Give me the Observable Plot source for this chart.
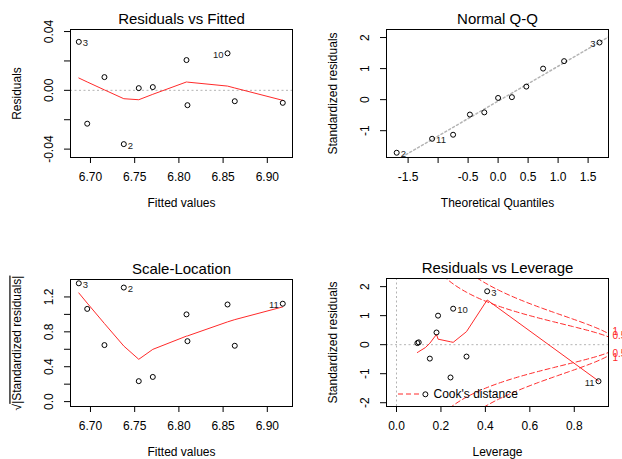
<!DOCTYPE html>
<html>
<head>
<meta charset="utf-8">
<script src="https://cdn.jsdelivr.net/npm/d3@7"></script>
<script src="https://cdn.jsdelivr.net/npm/@observablehq/plot@0.6"></script>
<style>
  html, body { margin: 0; padding: 0; background: #fff; }
  #chart { position: relative; width: 622px; height: 459px; overflow: hidden; }
</style>
</head>
<body>
<div id="chart"></div>
<script>
// ---- data ----
const pointIds = [3, 1, 4, 2, 5, 6, 7, 8, 10, 9, 11];
const fittedValues = [6.6868, 6.6963, 6.7158, 6.7377, 6.7546, 6.7705, 6.8086, 6.8097, 6.8550, 6.8632, 6.9175];
const residuals = [0.0330, -0.0227, 0.0090, -0.0366, 0.0015, 0.0022, 0.0206, -0.0101, 0.0252, -0.0074, -0.0085];
const stdResiduals = [1.84, -1.13, 0.42, -1.71, 0.055, 0.08, 1.00, -0.48, 1.24, -0.41, -1.26];
const leverage = [0.408, 0.243, 0.180, 0.130, 0.094, 0.100, 0.187, 0.150, 0.255, 0.315, 0.909];
const smoothResidFitted = [0.0084, 0.0057, 0.0003, -0.0057, -0.0064, -0.0027, 0.0057, 0.0056, 0.0029, 0.0016, -0.0068];
const smoothScaleLocation = [1.246, 1.129, 0.895, 0.637, 0.485, 0.599, 0.751, 0.753, 0.914, 0.940, 1.086];
const smoothResidLeverage = [1.54, 0.10, 0.355, -0.10, -0.27, -0.24, 0.19, 0.05, 0.08, 0.45, -1.25];
const theoreticalQuantiles = [-1.69, -1.10, -0.75, -0.47, -0.23, 0, 0.23, 0.47, 0.75, 1.10, 1.69];
const labelledRF = [3, 2, 10];
const labelledQQ = [3, 2, 11];
const labelledSL = [3, 2, 11];
const labelledRL = [3, 10, 11];
const cookLevels = [0.5, 1];
const nParams = 3;
const titles = ["Residuals vs Fitted", "Normal Q-Q", "Scale-Location", "Residuals vs Leverage"];
const fittedTicks = [6.70, 6.75, 6.80, 6.85, 6.90];
const residTicks = [-0.04, -0.02, 0, 0.02, 0.04];
const residTickLabels = [-0.04, 0, 0.04];
const qqXTicks = [-1.5, -1, -0.5, 0, 0.5, 1, 1.5];
const qqXTickLabels = [-1.5, -0.5, 0, 0.5, 1, 1.5];
const qqYTicks = [-1, 0, 1, 2];
const slYTicks = [0, 0.2, 0.4, 0.6, 0.8, 1.0, 1.2];
const slYTickLabels = [0, 0.4, 0.8, 1.2];
const levTicks = [0, 0.2, 0.4, 0.6, 0.8];
const rlYTicks = [-2, -1, 0, 1, 2];

// ---- table ----
const pts = pointIds.map((id, i) => ({
  id,
  fitted: fittedValues[i],
  resid: residuals[i],
  std: stdResiduals[i],
  sl: Math.sqrt(Math.abs(stdResiduals[i])),
  lev: leverage[i],
  sRF: smoothResidFitted[i],
  sSL: smoothScaleLocation[i],
  sRL: smoothResidLeverage[i]
}));
const qq = pts.slice().sort((a, b) => a.std - b.std).map((d, i) => ({...d, q: theoreticalQuantiles[i]}));

const FONT = '"Liberation Sans", Arial, Helvetica, sans-serif';
const RED = "#ff2a2a";
const GRAY = "#b4b4b4";
const container = document.getElementById("chart");

const hy = v => d3.format(".2f")(v).replace("\u2212", "-");
const fmtList = (list, f) => v => list.some(t => Math.abs(t - v) < 1e-9) ? f(v) : "";

function idText(data, xk, yk, ids) {
  const ext = d3.extent(data, d => d[xk]);
  const mid = (ext[0] + ext[1]) / 2;
  const sel = data.filter(d => ids.includes(d.id));
  const common = {x: xk, y: yk, text: d => String(d.id), dy: 1.5, fontSize: 9.5, fill: "#222"};
  return [
    Plot.text(sel.filter(d => d[xk] <= mid), {...common, textAnchor: "start", dx: 4}),
    Plot.text(sel.filter(d => d[xk] > mid), {...common, textAnchor: "end", dx: -4})
  ];
}

function dots(data, xk, yk) {
  return Plot.dot(data, {x: xk, y: yk, r: 2.5, stroke: "black", strokeWidth: 1, fill: "none"});
}

function panel(o) {
  const svg = Plot.plot({
    width: o.width, height: o.height,
    marginTop: o.mt, marginLeft: o.ml, marginRight: o.mr, marginBottom: o.mb,
    style: {fontFamily: FONT, fontSize: "12px", color: "black", background: "transparent", overflow: "visible"},
    x: {domain: o.xDomain, label: null},
    y: {domain: o.yDomain, label: null},
    marks: [
      ...o.marks,
      Plot.frame({stroke: "black", strokeWidth: 1}),
      Plot.axisX({ticks: o.xTicks, tickFormat: o.xFmt, tickSize: 6, tickPadding: 9, label: null, fontSize: 12}),
      Plot.axisY({ticks: o.yTicks, tickFormat: o.yFmt, tickSize: 6, tickRotate: -90, tickPadding: 12, label: null, fontSize: 12}),
      Plot.text([o.title], {text: d => d, frameAnchor: "top", lineAnchor: "middle", textAnchor: "middle", dy: -10, fontSize: 15}),
      Plot.text([o.xLabel], {text: d => d, frameAnchor: "bottom", lineAnchor: "middle", textAnchor: "middle", dy: 46, fontSize: 12}),
      Plot.text([o.yLabel], {text: d => d, frameAnchor: "left", lineAnchor: "middle", textAnchor: "middle", dx: -53, rotate: -90, fontSize: 12})
    ]
  });
  svg.style.position = "absolute";
  svg.style.left = o.left + "px";
  svg.style.top = o.top + "px";
  container.append(svg);
  return svg;
}

// ---- Panel 1: Residuals vs Fitted ----
panel({
  left: 0, top: 0, width: 311, height: 230, mt: 29, ml: 70, mr: 19, mb: 73,
  xDomain: [6.6774, 6.9285], yDomain: [-0.0457, 0.0414],
  xTicks: fittedTicks, xFmt: d3.format(".2f"),
  yTicks: residTicks, yFmt: fmtList(residTickLabels, hy),
  title: titles[0], xLabel: "Fitted values", yLabel: "Residuals",
  marks: [
    Plot.ruleY([0], {stroke: GRAY, strokeDasharray: "2,2.5"}),
    Plot.line(pts, {x: "fitted", y: "sRF", stroke: RED, strokeWidth: 1}),
    dots(pts, "fitted", "resid"),
    ...idText(pts, "fitted", "resid", labelledRF)
  ]
});

// ---- Panel 2: Normal Q-Q ----
const qqSorted = qq.map(d => d.std);
const y25 = d3.quantile(qqSorted, 0.25), y75 = d3.quantile(qqSorted, 0.75);
const z75 = 0.6745;
const qqSlope = (y75 - y25) / (2 * z75);
const qqInt = (y25 + y75) / 2;
const qqXDomain = [-1.86, 1.84];
const qqLine = qqXDomain.map(x => ({x, y: qqInt + qqSlope * x}));
panel({
  left: 311, top: 0, width: 311, height: 230, mt: 29, ml: 75, mr: 14, mb: 73,
  xDomain: qqXDomain, yDomain: [-1.863, 2.259],
  xTicks: qqXTicks, xFmt: fmtList(qqXTickLabels, v => d3.format(".1f")(v).replace("\u2212", "-")),
  yTicks: qqYTicks, yFmt: v => String(v),
  title: titles[1], xLabel: "Theoretical Quantiles", yLabel: "Standardized residuals",
  marks: [
    Plot.line(qqLine, {x: "x", y: "y", stroke: GRAY, strokeDasharray: "2,2.5", clip: true}),
    dots(qq, "q", "std"),
    ...idText(qq, "q", "std", labelledQQ)
  ]
});

// ---- Panel 3: Scale-Location ----
const slLabel = "\u221A|Standardized residuals|";
const sl = panel({
  left: 0, top: 250, width: 311, height: 209, mt: 29, ml: 70, mr: 19, mb: 53,
  xDomain: [6.6774, 6.9285], yDomain: [-0.056, 1.40],
  xTicks: fittedTicks, xFmt: d3.format(".2f"),
  yTicks: slYTicks, yFmt: fmtList(slYTickLabels, d3.format(".1f")),
  title: titles[2], xLabel: "Fitted values", yLabel: slLabel,
  marks: [
    Plot.line(pts, {x: "fitted", y: "sSL", stroke: RED, strokeWidth: 1}),
    dots(pts, "fitted", "sl"),
    ...idText(pts, "fitted", "sl", labelledSL)
  ]
});
// radical with overbar
d3.select(sl).selectAll("text").filter(function() { return this.textContent === slLabel; }).each(function() {
  const t = d3.select(this);
  t.text(null);
  t.append("tspan").text("\u221A");
  t.append("tspan").style("text-decoration", "overline").text("|Standardized residuals|");
});

// ---- Panel 4: Residuals vs Leverage ----
const levXDomain = [-0.045, 0.954];
const levSorted = pts.slice().sort((a, b) => a.lev - b.lev);
const xmax = levXDomain[1];
const h0 = Math.min(levSorted[0].lev, levSorted[1].lev / 100);
const hh = d3.range(101).map(i => h0 + i * (xmax - h0) / 100);
const cookCurves = [];
cookLevels.forEach(c => [1, -1].forEach(s => hh.forEach(h => cookCurves.push({key: c + "_" + s, h, r: s * Math.sqrt(c * nParams * (1 - h) / h)}))));
const labelX = 0.935;
const cookLabels = [];
cookLevels.forEach(c => [1, -1].forEach(s => cookLabels.push({x: xmax, y: s * Math.sqrt(c * nParams * (1 - labelX) / labelX), label: String(c)})));

const rl = panel({
  left: 311, top: 250, width: 311, height: 209, mt: 28, ml: 75, mr: 14, mb: 53,
  xDomain: levXDomain, yDomain: [-2.13, 2.28],
  xTicks: levTicks, xFmt: d3.format(".1f"),
  yTicks: rlYTicks, yFmt: v => String(v),
  title: titles[3], xLabel: "Leverage", yLabel: "Standardized residuals",
  marks: [
    Plot.ruleY([0], {stroke: GRAY, strokeDasharray: "2,2.5"}),
    Plot.ruleX([0], {stroke: GRAY, strokeDasharray: "2,2.5"}),
    Plot.line(cookCurves, {x: "h", y: "r", z: "key", stroke: RED, strokeDasharray: "5,3", strokeWidth: 1, clip: true}),
    Plot.line(levSorted, {x: "lev", y: "sRL", stroke: RED, strokeWidth: 1}),
    dots(pts, "lev", "std"),
    ...idText(pts, "lev", "std", labelledRL),
    Plot.text(cookLabels, {x: "x", y: "y", text: "label", dx: 4, textAnchor: "start", fill: RED, fontSize: 10}),
    Plot.text(["Cook's distance"], {text: d => d, frameAnchor: "bottom-left", lineAnchor: "middle", dx: 47, dy: -12, textAnchor: "start", fontSize: 12})
  ]
});
// legend key line
d3.select(rl).append("line")
  .attr("x1", 75 + 12).attr("x2", 75 + 36)
  .attr("y1", 209 - 53 - 12).attr("y2", 209 - 53 - 12)
  .attr("stroke", RED).attr("stroke-dasharray", "5,3").attr("stroke-width", 1);
</script>
</body>
</html>
